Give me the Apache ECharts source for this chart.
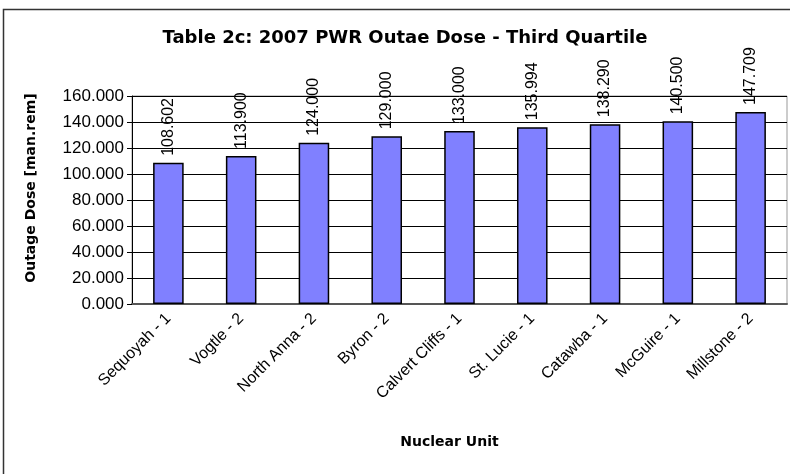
<!DOCTYPE html>
<html>
<head>
<meta charset="utf-8">
<script src="https://cdn.jsdelivr.net/npm/echarts@6/dist/echarts.min.js"></script>
<style>
  html, body { margin: 0; padding: 0; background: #fff; }
  #chart { width: 790px; height: 474px; }
</style>
</head>
<body>
<div id="chart"></div>
<script>
const units = ['Sequoyah - 1', 'Vogtle - 2', 'North Anna - 2', 'Byron - 2', 'Calvert Cliffs - 1',
    'St. Lucie - 1', 'Catawba - 1', 'McGuire - 1', 'Millstone - 2'];
const doses = [108.602, 113.900, 124.000, 129.000, 133.000, 135.994, 138.290, 140.500, 147.709];

const font = 'Arial, "Liberation Sans", sans-serif';
const boldFont = '"DejaVu Sans", sans-serif';

const option = {
    backgroundColor: '#fff',
    animation: false,
    title: {
        text: 'Table 2c: 2007 PWR Outae Dose - Third Quartile',
        left: 400,
        textAlign: 'center',
        top: 24,
        textStyle: { fontFamily: boldFont, fontSize: 18, fontWeight: 'bold', color: '#000' }
    },
    graphic: [{
        type: 'rect',
        shape: { x: 3.5, y: 9.5, width: 800, height: 480 },
        style: { fill: 'none', stroke: '#333', lineWidth: 1.5 },
        silent: true
    }],
    grid: {
        left: 132, right: 3, top: 96, bottom: 170,
        show: true, borderColor: '#999', borderWidth: 1, backgroundColor: '#fff'
    },
    xAxis: {
        type: 'category',
        data: units,
        name: 'Nuclear Unit',
        nameLocation: 'middle',
        nameGap: 131,
        nameTextStyle: { fontFamily: boldFont, fontSize: 14, fontWeight: 'bold', color: '#000', padding: [0, 20, 0, 0] },
        axisLine: { lineStyle: { color: '#555', width: 2 } },
        axisTick: { length: 5, lineStyle: { color: '#000' } },
        axisLabel: { rotate: 45, interval: 0, margin: 12, fontFamily: font, fontSize: 16, color: '#000' }
    },
    yAxis: {
        type: 'value',
        min: 0, max: 160, interval: 20,
        name: 'Outage Dose [man.rem]',
        nameLocation: 'middle',
        nameGap: 94,
        nameTextStyle: { fontFamily: boldFont, fontSize: 14, fontWeight: 'bold', color: '#000', padding: [0, 0, 0, 24] },
        axisLine: { show: true, lineStyle: { color: '#000', width: 1 } },
        axisTick: { show: true, length: 5, lineStyle: { color: '#000' } },
        axisLabel: {
            margin: 8, fontFamily: font, fontSize: 17, color: '#000',
            formatter: v => v.toFixed(3)
        },
        splitLine: { lineStyle: { color: '#000', width: 1 } }
    },
    series: [{
        type: 'bar',
        data: doses,
        barWidth: '42%',
        itemStyle: { color: '#8080FF', borderColor: '#000', borderWidth: 1.5 },
        label: {
            show: true,
            position: 'top',
            rotate: 90,
            align: 'left',
            verticalAlign: 'middle',
            distance: 7,
            fontFamily: font, fontSize: 16, color: '#000',
            formatter: p => p.value.toFixed(3)
        }
    }]
};

const chart = echarts.init(document.getElementById('chart'));
chart.setOption(option);
</script>
</body>
</html>
